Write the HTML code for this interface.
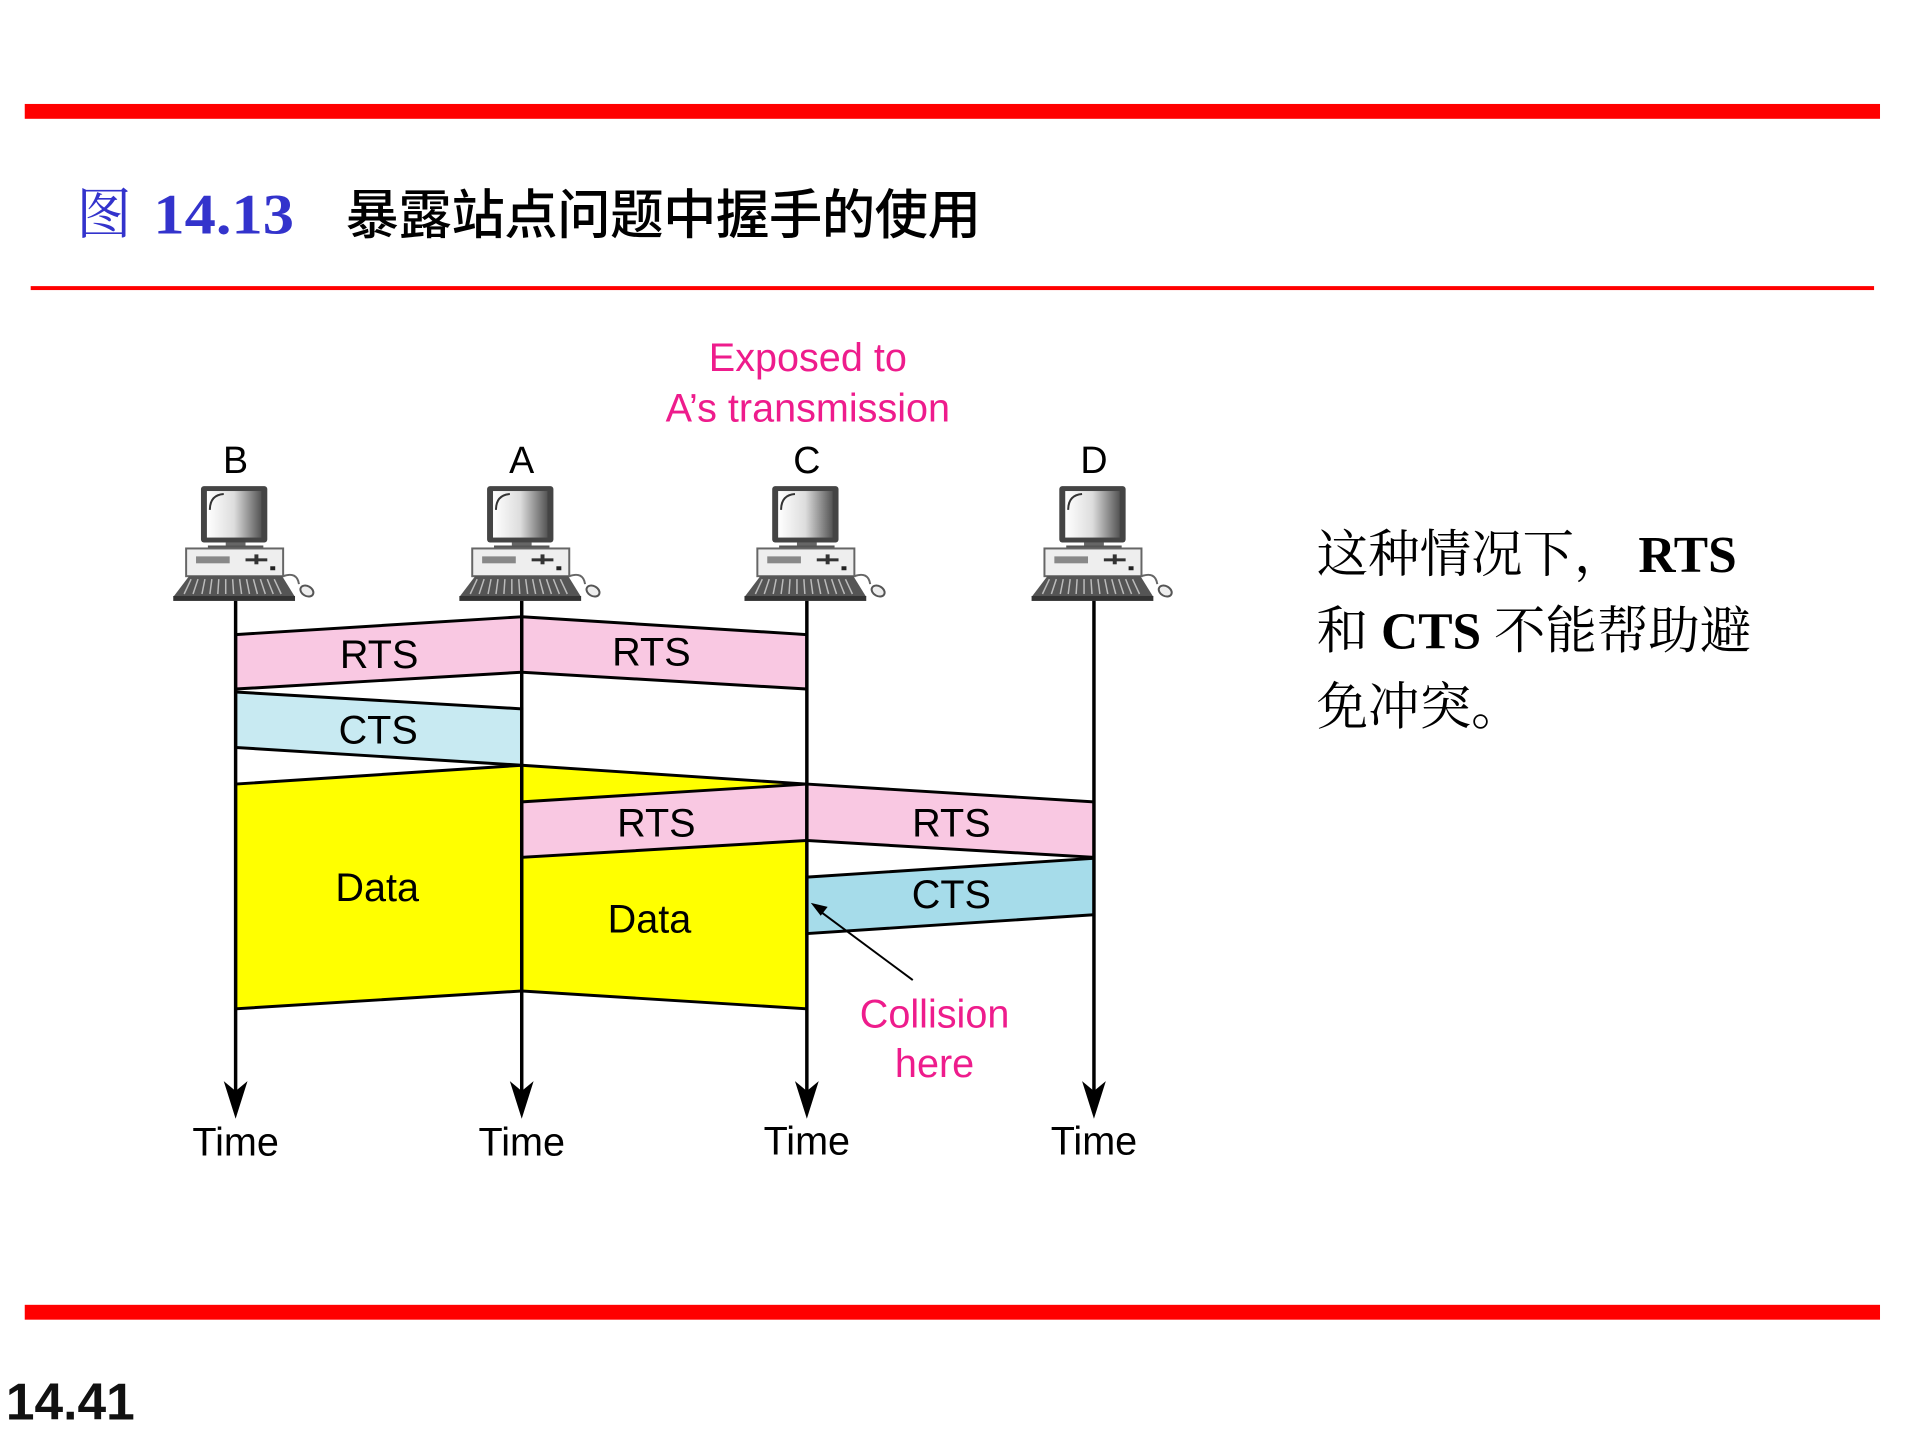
<!DOCTYPE html>
<html><head><meta charset="utf-8"><style>
html,body{margin:0;padding:0;background:#fff;}
body{width:1920px;height:1440px;position:relative;overflow:hidden;font-family:"Liberation Sans","Noto Sans CJK SC",sans-serif;}
</style></head><body>
<svg width="1920" height="1440" viewBox="0 0 1920 1440" xmlns="http://www.w3.org/2000/svg" style="position:absolute;left:0;top:0">
<defs>
<linearGradient id="scr" x1="0" x2="1" y1="0" y2="0">
<stop offset="0" stop-color="#fff"/><stop offset="0.5" stop-color="#ddd"/><stop offset="1" stop-color="#555"/>
</linearGradient>
<g id="pc">
<rect x="-35" y="486" width="67" height="57" rx="3" fill="#444"/>
<rect x="-29" y="491" width="55" height="47" fill="url(#scr)"/>
<path d="M-26 510 Q-26 495 -12 494" stroke="#333" stroke-width="2" fill="none"/>
<rect x="-10" y="543" width="20" height="4" fill="#666"/>
<rect x="-28" y="546" width="56" height="4" fill="#555"/>
<rect x="-50" y="549" width="98" height="28" fill="#eee" stroke="#666" stroke-width="2"/>
<rect x="-40" y="557" width="34" height="7" fill="#888"/>
<rect x="10" y="559" width="22" height="3" fill="#333"/><rect x="19" y="555" width="4" height="10" fill="#333"/>
<rect x="35" y="567" width="5" height="4" fill="#222"/>
<path d="M-47 577 L47 577 L60 598 L-63 598 Z" fill="#555"/>
<path d="M-45 580 L-52 595 M-38 580 L-43 595 M-31 580 L-34 595 M-24 580 L-26 595 M-17 580 L-18 595 M-10 580 L-10 595 M-3 580 L-2 595 M4 580 L6 595 M11 580 L14 595 M18 580 L22 595 M25 580 L30 595 M32 580 L38 595 M39 580 L46 595" stroke="#bbb" stroke-width="1.5"/>
<rect x="-63" y="597" width="123" height="5" fill="#333"/>
<path d="M48 577 Q62 572 64 585" stroke="#666" stroke-width="2" fill="none"/>
<ellipse cx="72" cy="592" rx="7" ry="5" fill="#eee" stroke="#555" stroke-width="2" transform="rotate(30 72 592)"/>
</g>
</defs>
<g transform="scale(0.99)">
<rect x="25" y="105" width="1874" height="15" fill="#ff0000"/>
<rect x="31" y="289" width="1862" height="4" fill="#ff0000"/>
<rect x="25" y="1318" width="1874" height="15" fill="#ff0000"/>
<text x="77" y="236" font-family="Liberation Serif, Noto Serif CJK SC, serif" font-size="56" fill="#3333cc">图</text>
<text x="155" y="236" font-family="Liberation Serif, serif" font-size="58" font-weight="bold" fill="#3333cc" textLength="142" lengthAdjust="spacingAndGlyphs">14.13</text>
<text x="349" y="236" font-family="Noto Sans CJK SC, sans-serif" font-weight="500" font-size="54" fill="#000" textLength="642">暴露站点问题中握手的使用</text>
<text x="6" y="1434" font-size="52" font-weight="bold" fill="#111">14.41</text>
<g font-family="Liberation Serif, Noto Serif CJK SC, serif" font-size="52" fill="#000">
<text x="1330" y="578">这种情况下， <tspan font-weight="bold">RTS</tspan></text>
<text x="1330" y="655">和 <tspan font-weight="bold">CTS</tspan> 不能帮助避</text>
<text x="1330" y="732">免冲突。</text>
</g>
<g fill="#ee1c8c" font-size="40" text-anchor="middle">
<text x="816" y="375">Exposed to</text>
<text x="816" y="426">A’s transmission</text>
<text x="944" y="1038">Collision</text>
<text x="944" y="1088">here</text>
</g>
<g font-size="38" text-anchor="middle" fill="#000">
<text x="238" y="478">B</text><text x="527" y="478">A</text><text x="815" y="478">C</text><text x="1105" y="478">D</text>
</g>
<use href="#pc" transform="translate(238,5)"/>
<use href="#pc" transform="translate(527,5)"/>
<use href="#pc" transform="translate(815,5)"/>
<use href="#pc" transform="translate(1105,5)"/>
<g stroke="#000" stroke-width="3" stroke-linejoin="miter">
<polygon points="527,773 815,792 815,1019 527,1001" fill="#ffff00"/>
<polygon points="238,792 527,773 527,1001 238,1019" fill="#ffff00"/>
<polygon points="238,641 527,623 527,679 238,696" fill="#f9c8e2"/>
<polygon points="527,623 815,641 815,696 527,679" fill="#f9c8e2"/>
<polygon points="238,699 527,716 527,773 238,755" fill="#c8eaf2"/>
<polygon points="527,810 815,792 815,849 527,866" fill="#f9c8e2"/>
<polygon points="815,792 1105,810 1105,866 815,849" fill="#f9c8e2"/>
<polygon points="815,886 1105,867 1105,924 815,943" fill="#a6dcea"/>
</g>
<g stroke="#000" stroke-width="3.5">
<line x1="238" y1="607" x2="238" y2="1110"/><line x1="527" y1="607" x2="527" y2="1110"/>
<line x1="815" y1="607" x2="815" y2="1110"/><line x1="1105" y1="607" x2="1105" y2="1110"/>
</g>
<g fill="#000">
<path d="M226 1092 L238 1130 L250 1092 L238 1102 Z"/>
<path d="M515 1092 L527 1130 L539 1092 L527 1102 Z"/>
<path d="M803 1092 L815 1130 L827 1092 L815 1102 Z"/>
<path d="M1093 1092 L1105 1130 L1117 1092 L1105 1102 Z"/>
</g>
<line x1="922" y1="990" x2="825" y2="918" stroke="#000" stroke-width="2"/>
<path d="M819 912 L836 916 L829 925 Z" fill="#000"/>
<g font-size="40" text-anchor="middle" fill="#000">
<text x="383" y="675">RTS</text><text x="658" y="672">RTS</text>
<text x="382" y="751">CTS</text>
<text x="663" y="845">RTS</text><text x="961" y="845">RTS</text>
<text x="961" y="917">CTS</text>
<text x="381" y="910">Data</text><text x="656" y="942">Data</text>
<text x="238" y="1167">Time</text><text x="527" y="1167">Time</text>
<text x="815" y="1166">Time</text><text x="1105" y="1166">Time</text>
</g>
</g>
</svg>
</body></html>
